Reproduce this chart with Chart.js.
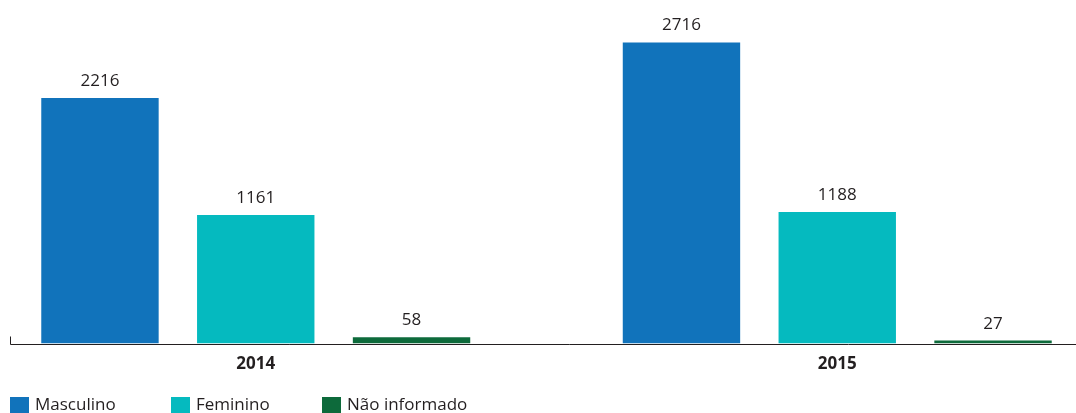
<!DOCTYPE html>
<html>
<head>
<meta charset="utf-8">
<script src="https://cdn.jsdelivr.net/npm/chart.js@4/dist/chart.umd.min.js"></script>
<style>
  html, body { margin: 0; padding: 0; background: #fff; overflow: hidden; }
  #wrap { position: relative; width: 1076px; height: 413px; overflow: hidden; }
  #grafico { position: absolute; left: -35px; top: 0; }
  #legenda { position: absolute; left: 0; top: 397px; width: 1076px; height: 19px;
    font-family: "Open Sans", sans-serif; font-size: 17px; color: #231f20; }
  .item { position: absolute; top: 0; height: 19px; }
  .item i { position: absolute; left: 0; top: 0; width: 19px; height: 19px; }
  .item span { position: absolute; left: 25px; top: -3px; line-height: 19px; white-space: nowrap; }
</style>
</head>
<body>
<div id="wrap">
  <canvas id="grafico" width="1163" height="413"></canvas>
  <div id="legenda"></div>
</div>
<script>
let anos = ["2014", "2015"]
let masculino = [2216, 2716]
let feminino = [1161, 1188]
let naoInformado = [58, 27]
let series = ["Masculino", "Feminino", "Não informado"]
let cores = ["#1173bb", "#05babf", "#0d6a3b"]
let legendaX = [10, 171, 322]

let corTexto = "#231f20"
let fonte = "'Open Sans', sans-serif"

// numeros em cima das barras
let rotulos = {
    id: "rotulos",
    afterDatasetsDraw(chart) {
        let c = chart.ctx
        c.save()
        c.font = "17px " + fonte
        c.fillStyle = corTexto
        c.textAlign = "center"
        c.textBaseline = "alphabetic"
        chart.data.datasets.forEach(function (ds, i) {
            chart.getDatasetMeta(i).data.forEach(function (bar, j) {
                c.fillText(ds.data[j], bar.x, bar.y - 12)
            })
        })
        c.restore()
    }
}

// linha do eixo com o tracinho na esquerda
let eixo = {
    id: "eixo",
    beforeDatasetsDraw(chart) {
        let c = chart.ctx
        let x0 = 10 - chart.canvas.offsetLeft + 0.5
        let y = Math.round(chart.chartArea.bottom) + 0.5
        c.save()
        c.strokeStyle = corTexto
        c.lineWidth = 1
        c.beginPath()
        c.moveTo(x0, y - 8)
        c.lineTo(x0, y)
        c.lineTo(chart.width, y)
        c.stroke()
        c.restore()
    }
}

let datasets = [masculino, feminino, naoInformado].map(function (valores, i) {
    return {
        label: series[i],
        data: valores,
        backgroundColor: cores[i],
        borderWidth: 0,
        categoryPercentage: 0.8037,
        barPercentage: 0.7536
    }
})

let chart = new Chart(document.querySelector("#grafico").getContext("2d"), {
    type: "bar",
    data: { labels: anos, datasets: datasets },
    options: {
        responsive: false,
        animation: false,
        layout: { padding: { left: 0, right: 0, top: 11, bottom: 29 } },
        plugins: { legend: { display: false }, tooltip: { enabled: false } },
        scales: {
            x: {
                grid: { display: false, drawTicks: false },
                border: { display: false },
                ticks: { color: corTexto, padding: 10, font: { family: fonte, size: 17, weight: "bold" } }
            },
            y: { display: false, min: 0, max: 3000 }
        }
    },
    plugins: [eixo, rotulos]
})

let legenda = document.querySelector("#legenda")
series.forEach(function (nome, i) {
    let item = document.createElement("div")
    item.className = "item"
    item.style.left = legendaX[i] + "px"
    let caixa = document.createElement("i")
    caixa.style.background = cores[i]
    let txt = document.createElement("span")
    txt.textContent = nome
    item.appendChild(caixa)
    item.appendChild(txt)
    legenda.appendChild(item)
})
</script>
</body>
</html>
